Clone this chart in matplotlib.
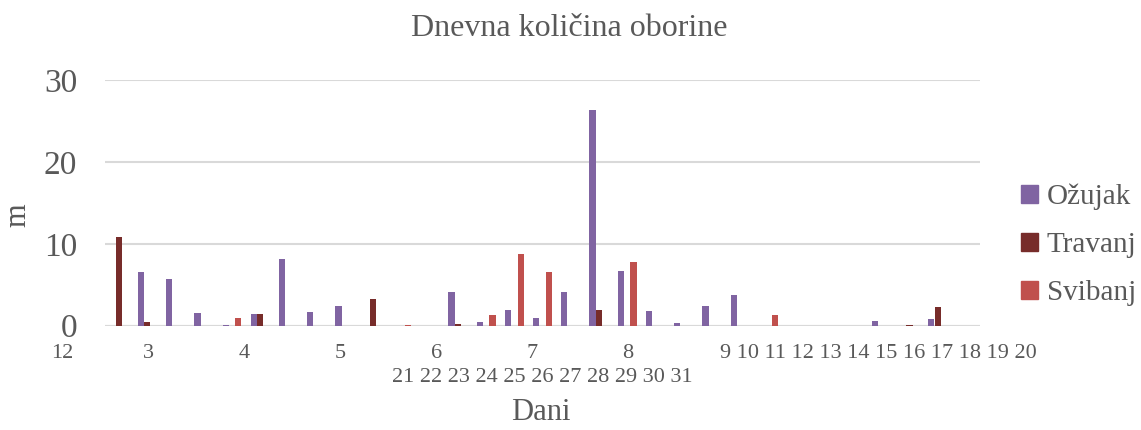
import matplotlib
matplotlib.use("Agg")
import matplotlib.pyplot as plt
import numpy as np
from matplotlib.patches import Patch

# daily precipitation, days 1..31
dani = list(range(1, 32))
ozujak = [0, 6.5, 5.75, 1.5, 0.1, 1.4, 8.2, 1.7, 2.35, 0, 0, 0, 4.1, 0.4, 1.95, 0.95,
          4.1, 26.3, 6.7, 1.8, 0.3, 2.35, 3.8, 0, 0, 0, 0, 0.6, 0, 0.8, 0]
travanj = [10.8, 0.4, 0, 0, 0, 1.4, 0, 0, 0, 3.2, 0, 0, 0.2, 0, 0, 0,
           0, 1.95, 0, 0, 0, 0, 0, 0, 0, 0, 0, 0, 0.1, 2.25, 0]
svibanj = [0, 0, 0, 0, 1.0, 0, 0, 0, 0, 0, 0.1, 0, 0, 1.35, 8.7, 6.5,
           0, 0, 7.8, 0, 0, 0, 0, 1.25, 0, 0, 0, 0, 0, 0, 0]
serije = ["Ožujak", "Travanj", "Svibanj"]
boje = ["#8064A2", "#772C2A", "#C0504D"]

# the x labels came out scrambled in the original, keep them as they look
oznake_red1 = [("12", 62), ("3", 148), ("4", 244), ("5", 340), ("6", 437), ("7", 532), ("8", 628)]
oznake_red1_niz = "9 10 11 12 13 14 15 16 17 18 19 20"
oznake_red2_niz = "21 22 23 24 25 26 27 28 29 30 31"

plt.rcParams['font.family'] = ['Liberation Serif', 'DejaVu Serif']
siva = "#595959"

W, H = 1141, 430
fig = plt.figure(figsize=(W / 100, H / 100), dpi=100)
ax = fig.add_axes([105 / W, 1 - 325.7 / H, 875 / W, 245.7 / H])

x = np.arange(len(dani))
sirina = 0.22
for k, (vals, boja) in enumerate(zip([ozujak, travanj, svibanj], boje)):
    ax.bar(x + (k - 1) * 0.225, vals, sirina, color=boja, zorder=3)

ax.set_xlim(-0.5, len(dani) - 0.5)
ax.set_ylim(0, 30)
ax.set_yticks([0, 10, 20, 30])
ax.yaxis.grid(True, color="#D9D9D9", linewidth=1.5, zorder=0)
ax.set_axisbelow(True)
for s in ax.spines.values():
    s.set_visible(False)
ax.tick_params(axis='y', length=0, pad=20, labelsize=24, labelcolor=siva)
ax.tick_params(axis='x', length=0, labelbottom=False)
ax.axhline(0, color="#D9D9D9", linewidth=1.5, zorder=1)


def px(xp, yp):
    return xp / W, 1 - yp / H


for t, xp in oznake_red1:
    fig.text(*px(xp, 354), t, ha='center', va='center', fontsize=16, color=siva)
fig.text(*px(720, 354), oznake_red1_niz, ha='left', va='center', fontsize=16, color=siva)
fig.text(*px(392, 377), oznake_red2_niz, ha='left', va='center', fontsize=16, color=siva)

fig.text(*px(569, 28), "Dnevna količina oborine", ha='center', va='center', fontsize=23, color=siva)
fig.text(*px(18, 215), "m", ha='center', va='center', rotation=90, fontsize=22, color=siva)
fig.text(*px(541, 413), "Dani", ha='center', va='center', fontsize=22, color=siva)

handles = [Patch(color=b) for b in boje]
fig.legend(handles, serije, loc='center left', bbox_to_anchor=px(1021, 245),
           frameon=False, fontsize=21, labelcolor=siva, handlelength=0.58,
           handleheight=0.58, handletextpad=0.3, labelspacing=0.75, borderaxespad=0,
           borderpad=0)

fig.savefig("out.png", dpi=100)
